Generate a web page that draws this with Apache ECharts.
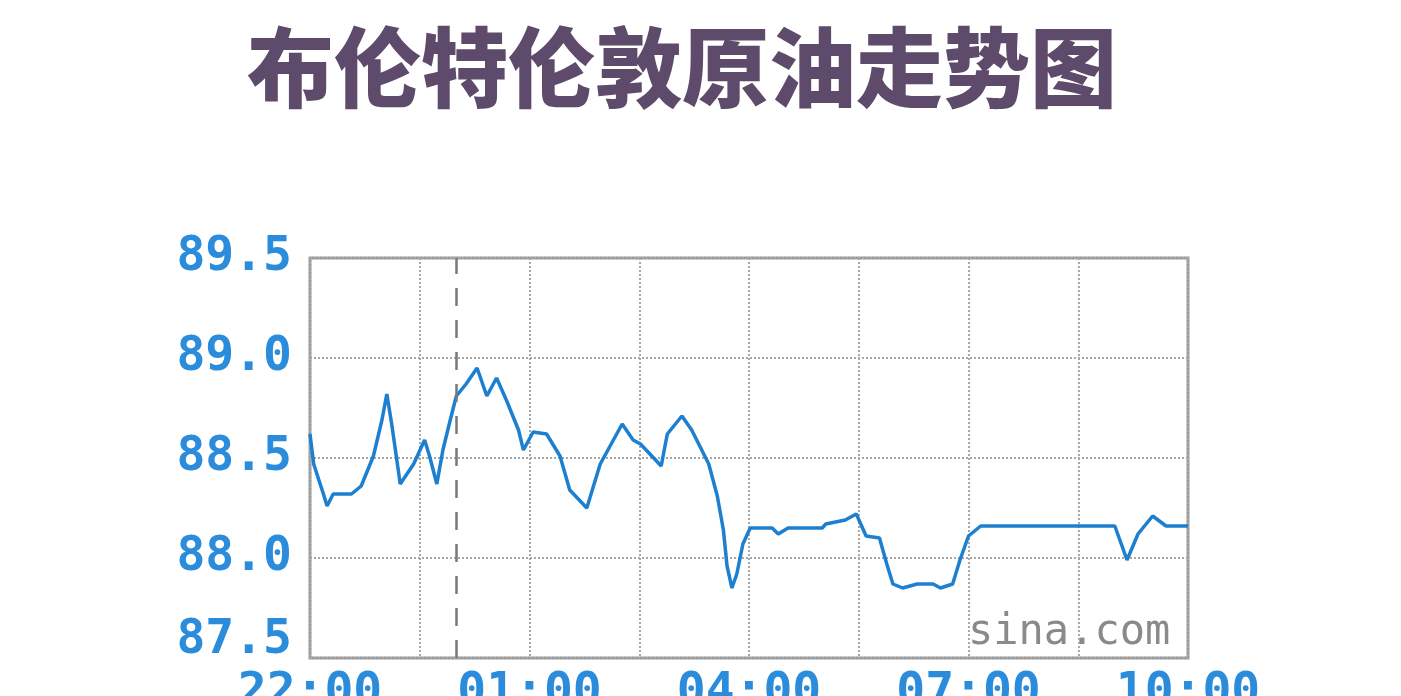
<!DOCTYPE html>
<html>
<head>
<meta charset="utf-8">
<script src="https://cdn.jsdelivr.net/npm/echarts@6/dist/echarts.min.js"></script>
<style>
  html, body { margin: 0; padding: 0; background: #fff; overflow: hidden; }
  #main { width: 1401px; height: 696px; }
</style>
</head>
<body>
<div id="main"></div>
<script>
// minutes since 22:00
var minutes = [0, 3, 11, 14, 19, 34, 42, 52, 59, 63, 67, 74, 85, 94, 98, 104, 109, 115, 120, 128,
  137, 145, 153, 161, 171, 175, 183, 194, 205, 213, 227, 238, 256, 265, 271, 288, 293, 305, 313, 327,
  334, 339, 342, 346, 350, 355, 361, 379, 384, 392, 420, 423, 439, 448, 456, 467, 473, 478, 486, 498,
  511, 517, 527, 533, 540, 550, 660, 670, 679, 691, 702, 720];
var prices = [88.62, 88.47, 88.32, 88.26, 88.32, 88.32, 88.36, 88.51, 88.69, 88.82, 88.67, 88.37, 88.47, 88.59, 88.51, 88.37, 88.54, 88.69, 88.81, 88.87,
  88.95, 88.81, 88.90, 88.79, 88.64, 88.54, 88.63, 88.62, 88.51, 88.34, 88.25, 88.47, 88.67, 88.59, 88.57, 88.46, 88.62, 88.71, 88.64, 88.47,
  88.31, 88.14, 87.96, 87.85, 87.92, 88.07, 88.15, 88.15, 88.12, 88.15, 88.15, 88.17, 88.19, 88.22, 88.11, 88.10, 87.97, 87.87, 87.85, 87.87,
  87.87, 87.85, 87.87, 87.99, 88.11, 88.16, 88.16, 87.99, 88.12, 88.21, 88.16, 88.16];
var timeLabels = { 0: "22:00", 180: "01:00", 360: "04:00", 540: "07:00", 720: "10:00" };
var midnight = 120;

var chart = echarts.init(document.getElementById("main"));
var blue = "#2a8cdb";
var mono = "'DejaVu Sans Mono', monospace";

var points = minutes.map(function (m, i) { return [m, prices[i]]; });

var option = {
  backgroundColor: "#fff",
  animation: false,
  title: {
    text: "布伦特伦敦原油走势图",
    left: 242,
    top: 19,
    textStyle: {
      fontFamily: "'Noto Sans CJK SC'",
      fontWeight: 900,
      fontSize: 87,
      color: "#5e4a6b"
    }
  },
  grid: {
    left: 310, width: 878, top: 258, height: 400,
    show: true, borderColor: "#9a9a9a", borderWidth: 3,
    containLabel: false,
    outerBoundsMode: "none"
  },
  xAxis: {
    type: "value",
    min: 0, max: 720, interval: 90,
    axisLine: { show: false },
    axisTick: { show: false },
    splitLine: { show: true, lineStyle: { type: "dotted", color: "#a8a8a8", width: 2 } },
    axisLabel: {
      margin: 12,
      color: blue,
      fontFamily: mono,
      fontWeight: "bold",
      fontSize: 48,
      formatter: function (v) { return timeLabels[v] || ""; }
    }
  },
  yAxis: {
    type: "value",
    min: 87.5, max: 89.5, interval: 0.5,
    axisLine: { show: false },
    axisTick: { show: false },
    splitLine: { show: true, lineStyle: { type: "dotted", color: "#a8a8a8", width: 2 } },
    axisLabel: {
      margin: 18,
      color: blue,
      fontFamily: mono,
      fontWeight: "bold",
      fontSize: 48,
      formatter: function (v) {
        return v === 87.5 ? "{low|" + v.toFixed(1) + "}" : v.toFixed(1);
      },
      rich: {
        low: {
          color: blue, fontFamily: mono, fontWeight: "bold", fontSize: 48,
          padding: [0, 0, 34, 0]
        }
      }
    }
  },
  graphic: [{
    type: "text",
    left: 968,
    top: 612,
    style: { text: "sina.com", fontFamily: mono, fontSize: 42, fill: "#8a8a8a" }
  }],
  series: [{
    type: "line",
    data: points,
    showSymbol: false,
    lineStyle: { color: "#1c7fd0", width: 3.5 },
    markLine: {
      silent: true,
      symbol: "none",
      label: { show: false },
      lineStyle: { type: [18, 14], color: "#7a7a7a", width: 2.5 },
      data: [{ xAxis: midnight }]
    }
  }]
};

chart.setOption(option);
</script>
</body>
</html>
